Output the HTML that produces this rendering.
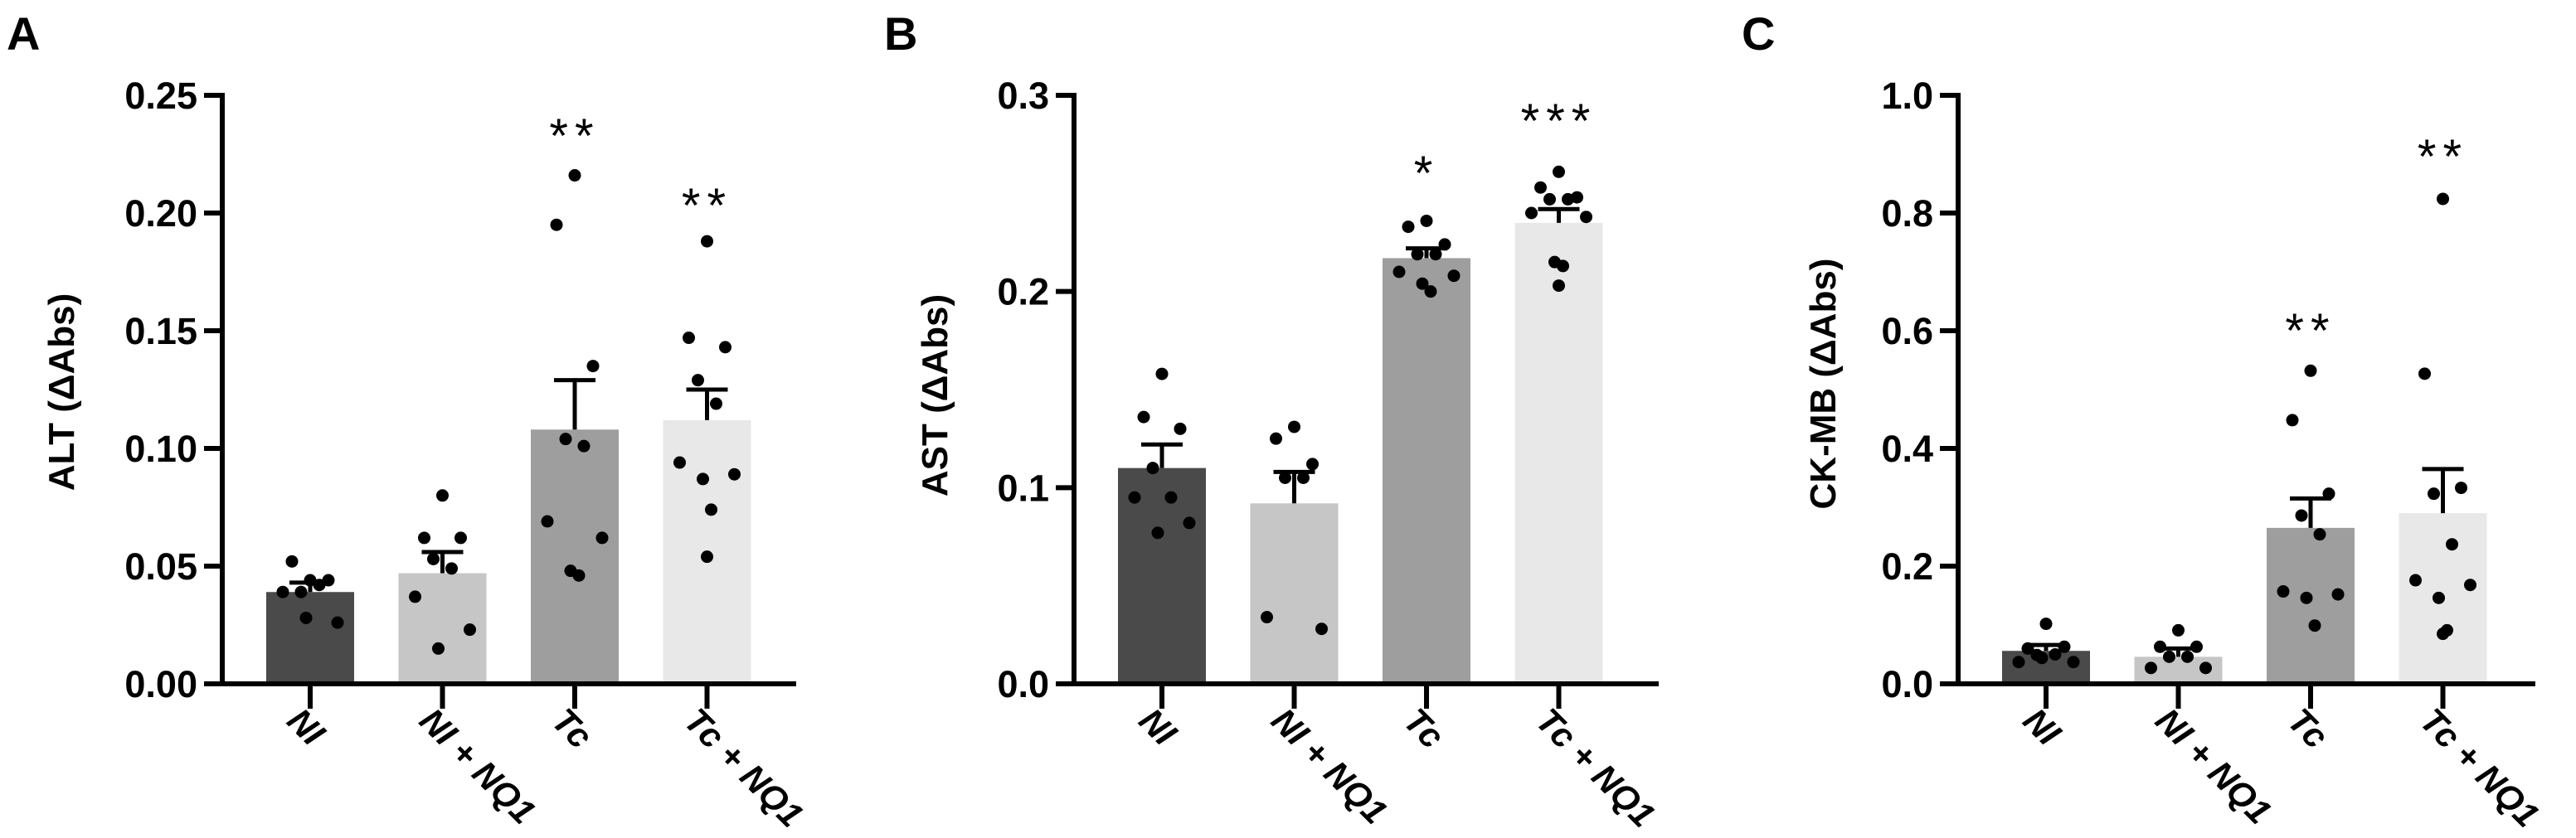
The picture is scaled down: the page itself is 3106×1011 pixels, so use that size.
<!DOCTYPE html>
<html><head><meta charset="utf-8"><style>
html,body{margin:0;padding:0;background:#fff;}
svg{display:block;font-family:"Liberation Sans",sans-serif;}
</style></head><body>
<svg id="fig" width="3106" height="1011" viewBox="0 0 3106 1011" xmlns="http://www.w3.org/2000/svg"></svg>
<script>
const categories = ["NI", "NI + NQ1", "Tc", "Tc + NQ1"];
const barColors = ["#4a4a4a", "#c6c6c6", "#9e9e9e", "#e8e8e8"];

const altMeans = [0.039, 0.047, 0.108, 0.112];
const altSem = [0.004, 0.009, 0.021, 0.013];
const altPoints = [
  [0.044, 0.052, 0.044, 0.039, 0.042, 0.039, 0.026, 0.028],
  [0.080, 0.062, 0.062, 0.053, 0.049, 0.037, 0.023, 0.015],
  [0.216, 0.195, 0.135, 0.104, 0.101, 0.069, 0.062, 0.048, 0.046],
  [0.188, 0.147, 0.143, 0.129, 0.119, 0.094, 0.089, 0.087, 0.074, 0.054]
];
const altStars = ["", "", "**", "**"];
const altTicks = ["0.00", "0.05", "0.10", "0.15", "0.20", "0.25"];

const astMeans = [0.110, 0.092, 0.217, 0.235];
const astSem = [0.012, 0.016, 0.005, 0.007];
const astPoints = [
  [0.158, 0.136, 0.130, 0.110, 0.095, 0.095, 0.082, 0.077],
  [0.131, 0.125, 0.112, 0.105, 0.105, 0.034, 0.028],
  [0.236, 0.233, 0.224, 0.219, 0.219, 0.210, 0.208, 0.204, 0.200],
  [0.261, 0.253, 0.248, 0.247, 0.247, 0.240, 0.238, 0.215, 0.213, 0.203]
];
const astStars = ["", "", "*", "***"];
const astTicks = ["0.0", "0.1", "0.2", "0.3"];

const ckMeans = [0.056, 0.046, 0.265, 0.290];
const ckSem = [0.010, 0.014, 0.050, 0.075];
const ckPoints = [
  [0.102, 0.060, 0.063, 0.049, 0.050, 0.037, 0.037, 0.044],
  [0.091, 0.063, 0.063, 0.046, 0.046, 0.027, 0.027],
  [0.532, 0.448, 0.323, 0.286, 0.254, 0.157, 0.152, 0.146, 0.099],
  [0.824, 0.527, 0.333, 0.323, 0.237, 0.176, 0.168, 0.146, 0.091, 0.085]
];
const ckStars = ["", "", "**", "**"];
const ckTicks = ["0.0", "0.2", "0.4", "0.6", "0.8", "1.0"];

const NS = "http://www.w3.org/2000/svg";
const svg = document.getElementById("fig");
function mk(tag, parent) { const e = document.createElementNS(NS, tag); parent.appendChild(e); return e; }

function drawPanel(o) {
  const g = mk("g", svg);
  
  
  const y0 = 825, y1 = 115;
  const ymax = parseFloat(o.ticks[o.ticks.length - 1]);
  const Y = v => y0 - (v / ymax) * (y0 - y1);
  const step = 159.5, bw = 106;
  const X = i => o.axisX + 106 + i * step;

  const L = mk("text", g);
  
  
  L.setAttribute("x", o.letterX); L.setAttribute("y", 60);
  L.setAttribute("font-size", 56); L.setAttribute("font-weight", "bold");
  L.textContent = o.letter;

  o.means.forEach((m, i) => {
    const r = mk("rect", g);
    
    
    r.setAttribute("x", X(i) - bw / 2); r.setAttribute("width", bw);
    r.setAttribute("y", Y(m)); r.setAttribute("height", y0 - Y(m));
    r.setAttribute("fill", barColors[i]);
  });
  o.points.forEach((arr, i) => {
    arr.forEach((v, j) => {
      const pat = [0, -22, 22, -11, 11, -33, 33, -5, 5, 0];
      const c = mk("circle", g);
      
      
      c.setAttribute("cx", X(i) + pat[j % pat.length]); c.setAttribute("cy", Y(v));
      c.setAttribute("r", 7.5); c.setAttribute("fill", "#000");
    });
  });
  o.means.forEach((m, i) => {
    const top = Y(m + o.sem[i]);
    const l = mk("path", g);
    
    
    l.setAttribute("d", `M${X(i)} ${Y(m)}V${top}M${X(i) - 25} ${top}H${X(i) + 25}`);
    l.setAttribute("stroke", "#000"); l.setAttribute("stroke-width", 5); l.setAttribute("fill", "none");
    if (o.stars[i]) {
      const s = mk("text", g);
      
      
      s.setAttribute("x", X(i)); s.setAttribute("y", o.starY[i] + 6);
      s.setAttribute("text-anchor", "middle"); s.setAttribute("font-size", 58);
      s.setAttribute("letter-spacing", 8);
      s.textContent = o.stars[i];
    }
  });
  const ax = mk("path", g);
  
  
  let d = `M${o.axisX} ${y1 - 3}V${y0}H${o.axisEnd}`;
  o.ticks.forEach(t => { const yy = Y(parseFloat(t)); d += `M${o.axisX - 22} ${yy}H${o.axisX}`; });
  categories.forEach((c, i) => { d += `M${X(i)} ${y0}V${y0 + 30}`; });
  ax.setAttribute("d", d); ax.setAttribute("stroke", "#000"); ax.setAttribute("stroke-width", 6); ax.setAttribute("fill", "none");
  o.ticks.forEach(t => {
    const tx = mk("text", g);
    
    
    tx.setAttribute("x", o.axisX - 30); tx.setAttribute("y", Y(parseFloat(t)) + 16);
    tx.setAttribute("text-anchor", "end"); tx.setAttribute("font-size", 45); tx.setAttribute("font-weight", "bold");
    tx.textContent = t;
  });
  categories.forEach((c, i) => {
    const tx = mk("text", g);
    
    
    const sx = X(i) - 30, sy = 872;
    tx.setAttribute("x", sx); tx.setAttribute("y", sy);
    tx.setAttribute("transform", `rotate(45 ${sx} ${sy})`);
    tx.setAttribute("font-size", 42); tx.setAttribute("font-weight", "bold"); tx.setAttribute("font-style", "italic");
    tx.textContent = c;
  });
  const yt = mk("text", g);
  
  
  yt.setAttribute("x", o.titleX); yt.setAttribute("y", o.titleY);
  yt.setAttribute("transform", `rotate(-90 ${o.titleX} ${o.titleY})`);
  yt.setAttribute("text-anchor", "middle"); yt.setAttribute("font-size", 44); yt.setAttribute("font-weight", "bold");
  yt.textContent = o.title;
}

drawPanel({id: "alt", letter: "A", letterX: 8, axisX: 268, axisEnd: 960, means: altMeans, sem: altSem, points: altPoints,
  stars: altStars, starY: [0, 0, 178, 262], ticks: altTicks, title: "ALT (\u0394Abs)", titleX: 89, titleY: 473});
drawPanel({id: "ast", letter: "B", letterX: 1066, axisX: 1295, axisEnd: 2000, means: astMeans, sem: astSem, points: astPoints,
  stars: astStars, starY: [0, 0, 223, 160], ticks: astTicks, title: "AST (\u0394Abs)", titleX: 1142, titleY: 477});
drawPanel({id: "ckmb", letter: "C", letterX: 2100, axisX: 2361, axisEnd: 3057, means: ckMeans, sem: ckSem, points: ckPoints,
  stars: ckStars, starY: [0, 0, 413, 203], ticks: ckTicks, title: "CK-MB (\u0394Abs)", titleX: 2213, titleY: 463});
</script>
</body></html>
